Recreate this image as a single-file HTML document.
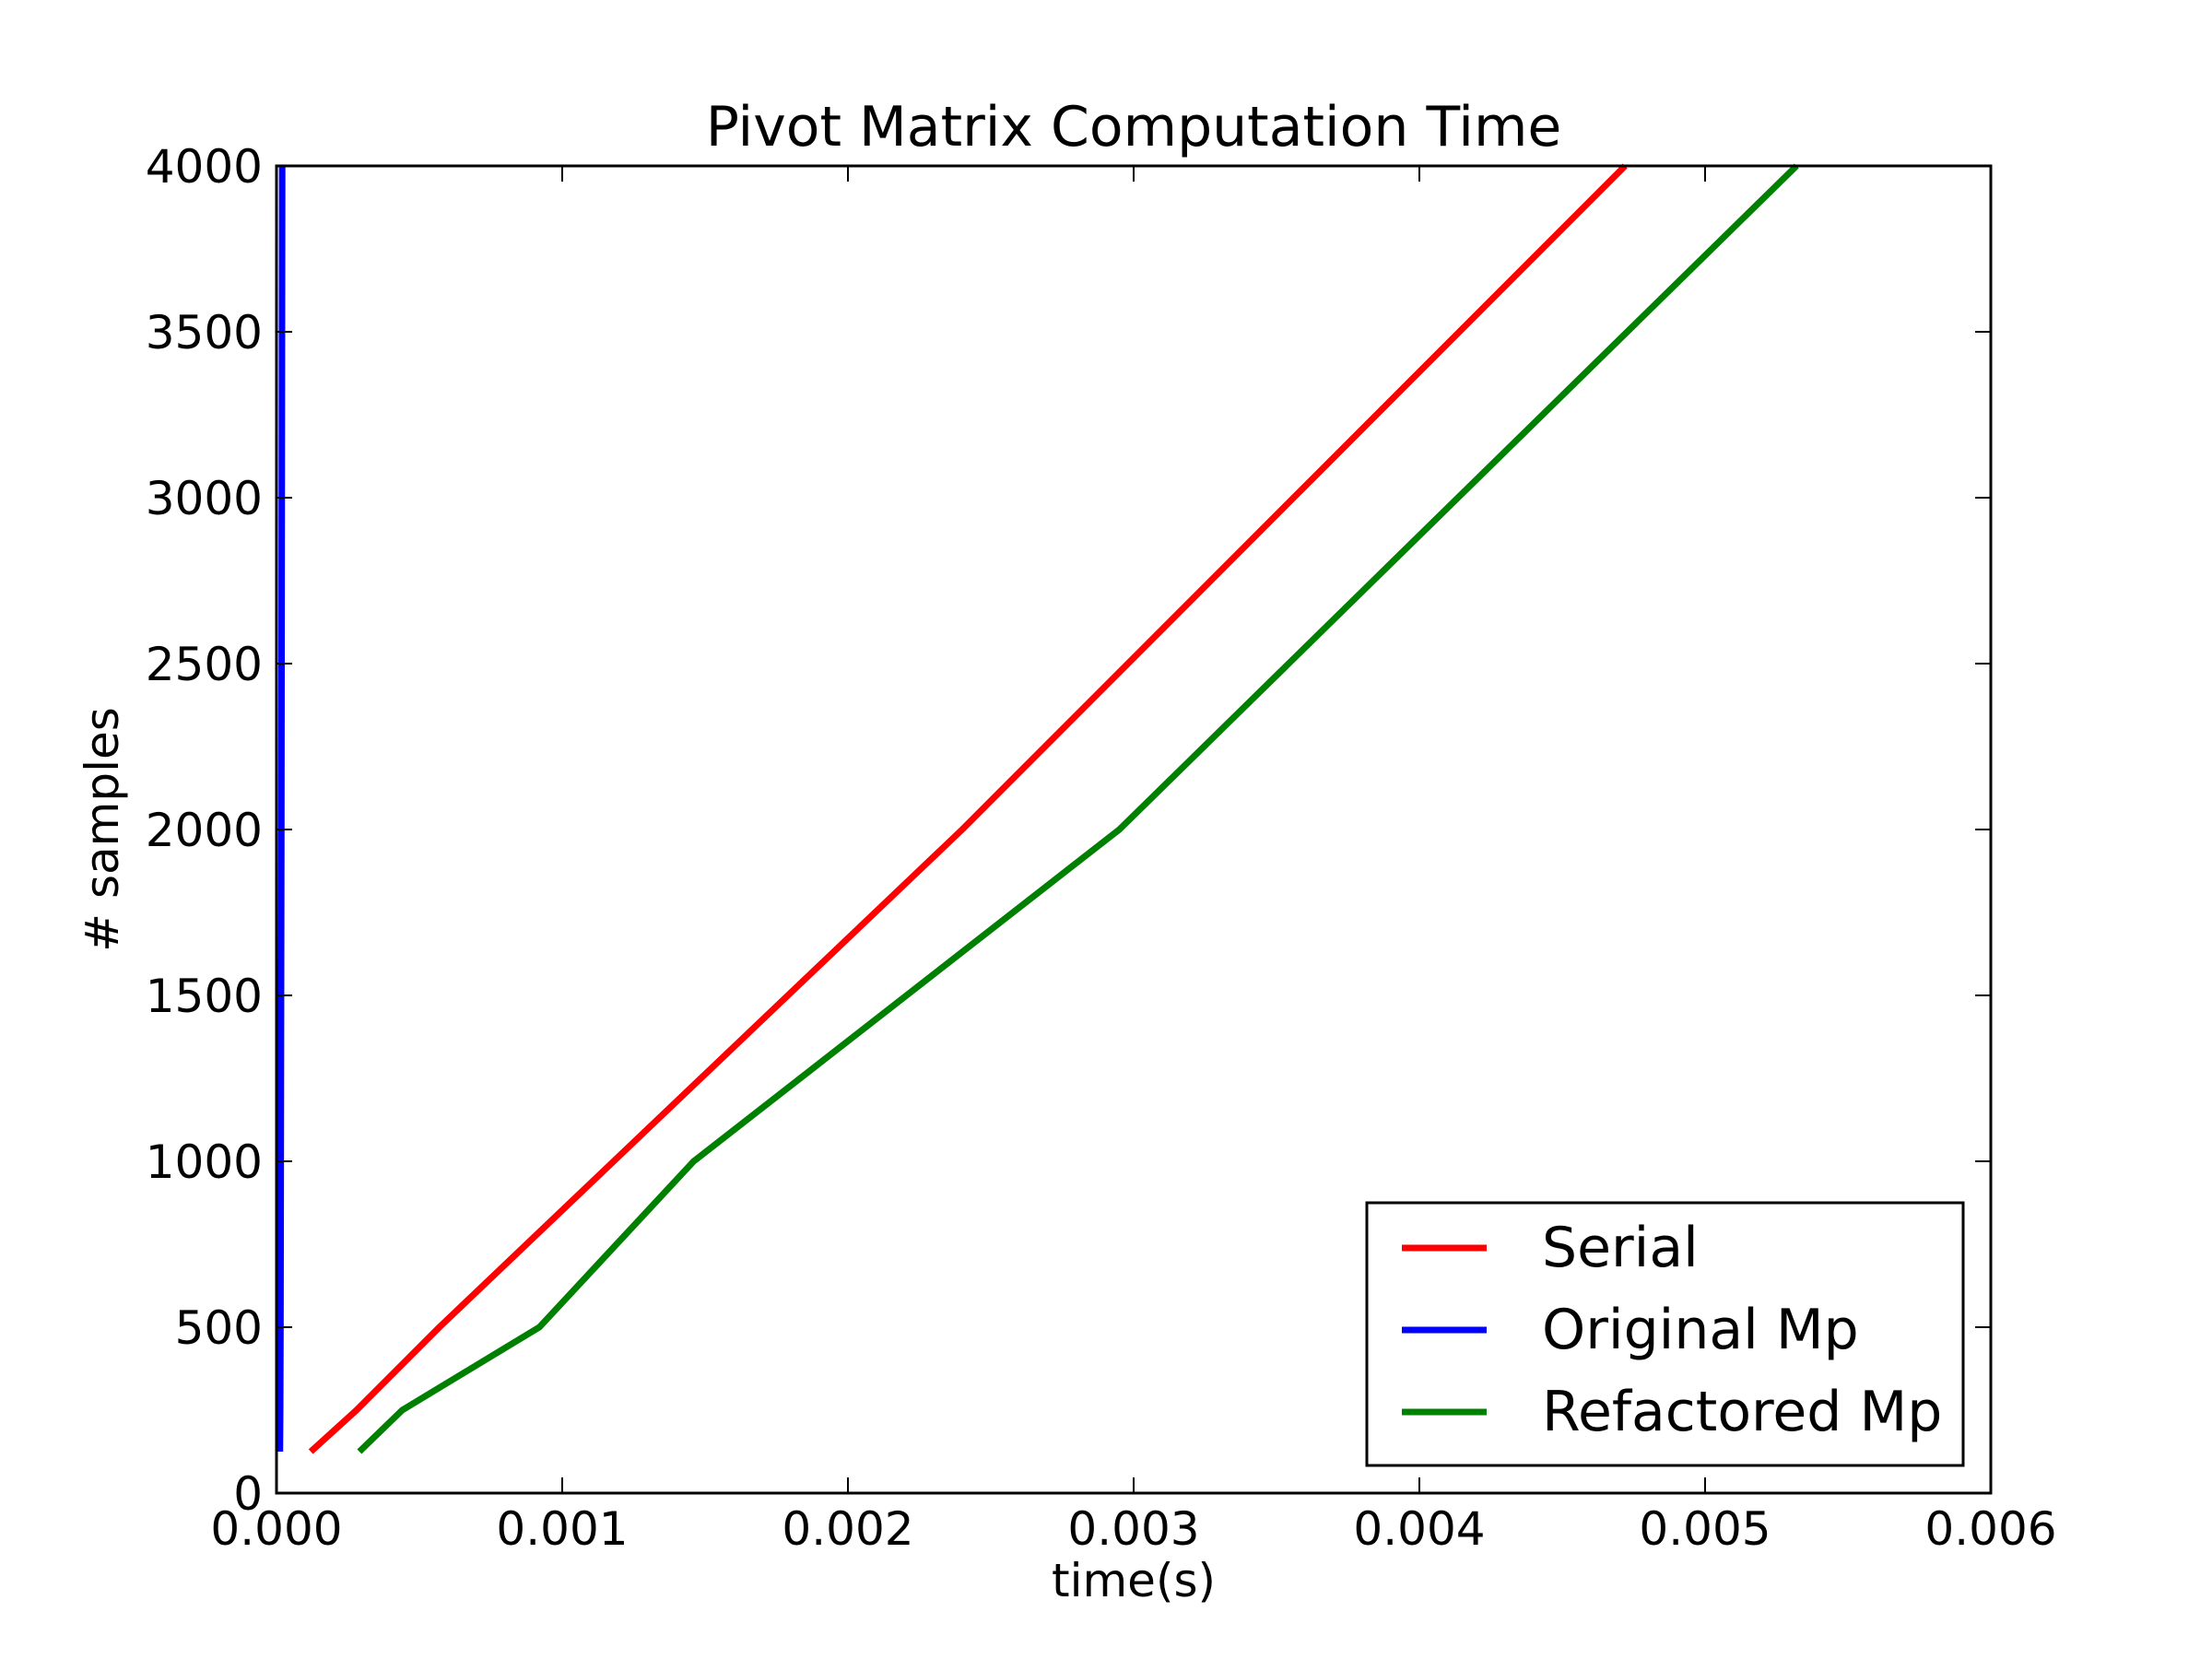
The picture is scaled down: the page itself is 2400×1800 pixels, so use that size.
<!DOCTYPE html>
<html><head><meta charset="utf-8"><style>
html,body{margin:0;padding:0;background:#fff;}
svg{display:block;font-family:"DejaVu Sans","Liberation Sans",sans-serif;}
</style></head><body>
<svg id="chart" width="2400" height="1800" viewBox="0 0 2400 1800">
<rect x="0" y="0" width="2400" height="1800" fill="#fff"/>
<g id="plot"></g>
<g id="axes"></g>
<text x="1230" y="158" font-size="60" text-anchor="middle">Pivot Matrix Computation Time</text>
<text x="1230" y="1732" font-size="50" text-anchor="middle">time(s)</text>
<text x="0" y="0" font-size="50" text-anchor="middle" transform="translate(128,900) rotate(-90)"># samples</text>
<g>
<rect x="1483" y="1305" width="647" height="285" fill="#fff" stroke="#000" stroke-width="3"/>
<g><line x1="1521" y1="1354" x2="1613" y2="1354" stroke="#ff0000" stroke-width="7"/><text x="1673" y="1374" font-size="60">Serial</text></g>
<g><line x1="1521" y1="1443" x2="1613" y2="1443" stroke="#0000ff" stroke-width="7"/><text x="1673" y="1463" font-size="60">Original Mp</text></g>
<g><line x1="1521" y1="1532" x2="1613" y2="1532" stroke="#008000" stroke-width="7"/><text x="1673" y="1552" font-size="60">Refactored Mp</text></g>
</g>
</svg>
<script>
const samples = [125, 250, 500, 1000, 2000, 4000];
const serialTimes = [0.00012, 0.00028, 0.00057, 0.00118, 0.0024, 0.00472];
const originalTimes = [0.000012, 0.000013, 0.000014, 0.000015, 0.000017, 0.00002];
const refactoredTimes = [0.00029, 0.00044, 0.00092, 0.00146, 0.00295, 0.00532];
const xTicks = [0, 0.001, 0.002, 0.003, 0.004, 0.005, 0.006];
const xTickLabels = ["0.000","0.001","0.002","0.003","0.004","0.005","0.006"];
const yTicks = [0, 500, 1000, 1500, 2000, 2500, 3000, 3500, 4000];
const yTickLabels = ["0","500","1000","1500","2000","2500","3000","3500","4000"];

const L=300,R=2160,T=180,B=1620;
const xs=v=>L+(v/0.006)*(R-L);
const ys=v=>B-(v/4000)*(B-T);
const NS="http://www.w3.org/2000/svg";
const plot=document.getElementById('plot'), axes=document.getElementById('axes');
function mk(tag,attrs,parent){const e=document.createElementNS(NS,tag);for(const k in attrs)e.setAttribute(k,attrs[k]);parent.appendChild(e);return e;}

const series=[[serialTimes,'#ff0000','series-serial'],[originalTimes,'#0000ff','series-original-mp'],[refactoredTimes,'#008000','series-refactored-mp']];
series.forEach(s=>{
  const pts=s[0].map((t,i)=>xs(t)+','+ys(samples[i])).join(' ');
  const p=mk('polyline',{points:pts,fill:'none',stroke:s[1],'stroke-width':7,'stroke-linejoin':'round'},plot);
  
  
});

const frame=mk('rect',{x:L,y:T,width:R-L,height:B-T,fill:'none',stroke:'#000','stroke-width':3},axes);


xTicks.forEach((v,i)=>{
  const x=xs(v);
  mk('line',{x1:x,y1:B,x2:x,y2:B-17,stroke:'#000','stroke-width':2},axes);
  mk('line',{x1:x,y1:T,x2:x,y2:T+17,stroke:'#000','stroke-width':2},axes);
  const t=mk('text',{x:x,y:1676,'font-size':50,'text-anchor':'middle'},axes);
  t.textContent=xTickLabels[i];
  
  
});
yTicks.forEach((v,i)=>{
  const y=ys(v);
  mk('line',{x1:L,y1:y,x2:L+17,y2:y,stroke:'#000','stroke-width':2},axes);
  mk('line',{x1:R,y1:y,x2:R-17,y2:y,stroke:'#000','stroke-width':2},axes);
  const t=mk('text',{x:285,y:y+18,'font-size':50,'text-anchor':'end'},axes);
  t.textContent=yTickLabels[i];
  
  
});
</script>
</body></html>
